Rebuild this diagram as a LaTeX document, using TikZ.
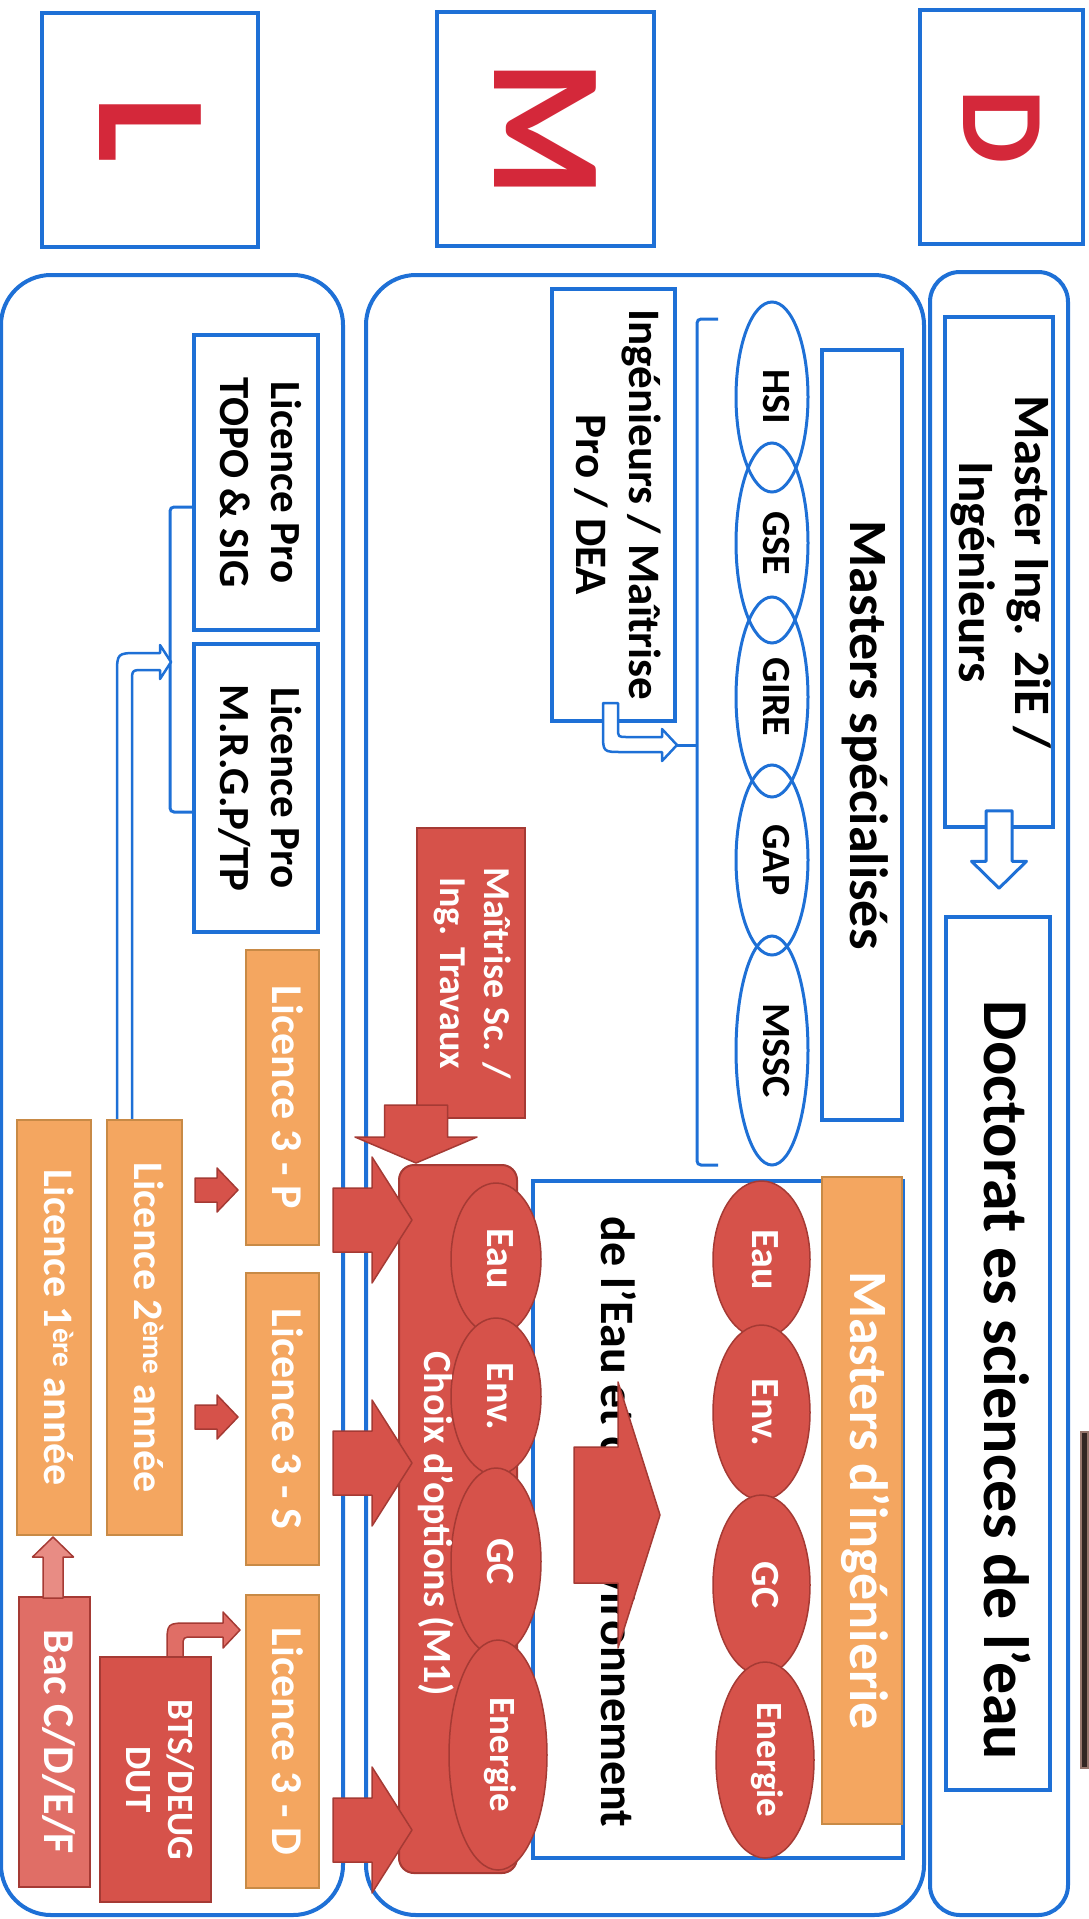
\documentclass[tikz,border=0pt]{standalone}
\usepackage{fontspec}
\setmainfont{Carlito}
\usepackage{graphicx}
\usetikzlibrary{shapes.geometric,calc}
\definecolor{bl}{RGB}{30,112,214}
\definecolor{letred}{RGB}{212,40,58}
\definecolor{orfill}{RGB}{244,166,96}
\definecolor{ordraw}{RGB}{200,138,70}
\definecolor{rdfill}{RGB}{214,82,74}
\definecolor{rddraw}{RGB}{165,58,52}
\definecolor{rdlight}{RGB}{224,110,102}
\definecolor{pinkarrow}{RGB}{232,140,132}
\definecolor{stripfill}{RGB}{50,38,34}
\definecolor{stripdraw}{RGB}{150,118,108}
\newsavebox\myrbox
\newcommand\Rbox[2][0pt]{\sbox\myrbox{\rotatebox{-90}{#2}}\smash{\makebox[0pt]{\raisebox{\dimexpr.5\dp\myrbox-#1\relax}{\usebox\myrbox}}}}
\newcommand\R[2][0pt]{\Rbox[#1]{\begin{tabular}{@{}c@{}}#2\end{tabular}}}
\newcommand\boxat[7]{\node[#2,minimum width={(#5)-(#3)},minimum height={(#6)-(#4)}] (#1) at ({((#3)+(#5))/2},{((#4)+(#6))/2}) {#7};}
\newcommand\barrow[6]{%
  \path let \p1=(#2), \p2=(#3) in \pgfextra{%
    \pgfmathsetmacro\baang{atan2(\y2-\y1,\x2-\x1)}%
    \pgfmathsetlengthmacro\balen{veclen(\x2-\x1,\y2-\y1)}%
    \xdef\baang{\baang}\xdef\balen{\balen}%
    \xdef\bax{\x1}\xdef\bay{\y1}};
  \begin{scope}[shift={(\bax,\bay)},rotate=\baang]
    \pgfmathsetlengthmacro\bab{\balen-#6pt}%
    \path[#1] (0pt,#4pt) -- (\bab,#4pt) -- (\bab,#5pt) -- (\balen,0pt) -- (\bab,-#5pt) -- (\bab,-#4pt) -- (0pt,-#4pt) -- cycle;
  \end{scope}}
\begin{document}
\begin{tikzpicture}[x=1pt,y=-1pt,
  region/.style={draw=bl,line width=4pt,rounded corners=50pt,inner sep=0},
  lettbox/.style={draw=bl,line width=4.5pt,fill=white,inner sep=0,text=letred},
  bbox/.style={draw=bl,line width=3.5pt,fill=white,inner sep=0},
  obox/.style={draw=ordraw,line width=2.5pt,fill=orfill,inner sep=0,text=white},
  rbox/.style={draw=rddraw,line width=2pt,fill=rdfill,inner sep=0,text=white},
  bell/.style={ellipse,draw=bl,line width=3pt,inner sep=0},
  rell/.style={ellipse,draw=rddraw,line width=1.5pt,fill=rdfill,inner sep=0,text=white},
  fs/.style 2 args={font=\fontsize{#1}{#2}\selectfont\bfseries},
  hol/.style={draw=bl,line width=2.5pt,fill=white,line join=round},
  brk/.style={draw=bl,line width=3pt,rounded corners=4pt},
  redarrow/.style={fill=rdfill,draw=rddraw,line width=1.5pt,line join=round},
]
\useasboundingbox (0,0) rectangle (1088,1919);
% letter boxes
\boxat{Lb}{lettbox,fs={157}{160}}{42}{13}{258}{247}{\Rbox{L}}
\boxat{Mb}{lettbox,fs={157}{160}}{437}{12}{654}{246}{\Rbox{M}}
\boxat{Db}{lettbox,fs={118}{120}}{920}{10}{1083}{244}{\Rbox{D}}
% regions
\boxat{lreg}{region}{1}{275}{343}{1915}{}
\boxat{mreg}{region}{366}{275}{924}{1915}{}
\boxat{dreg}{region,rounded corners=30pt}{930}{272}{1068}{1915}{}
% D region
\boxat{masteri}{bbox,fs={51}{56}}{945}{317}{1053}{827}{\R{Master Ing. 2iE /\\Ingénieurs}}
\boxat{doct}{bbox,fs={64}{70}}{946}{917}{1050}{1790}{\R[27pt]{Doctorat es sciences de l’eau}}
\coordinate (dA) at ($(masteri.south)+(0,-18)$);
\coordinate (dB) at ($(dA |- doct.north)+(0,-27)$);
\barrow{hol,line width=3pt}{dA}{dB}{13}{27.5}{27}
% M region: specialised masters
\boxat{ing}{bbox,fs={45}{53}}{552}{289}{675}{721}{\R{Ingénieurs / Maîtrise\\Pro / DEA}}
\coordinate (ingtip) at (677,745);
\coordinate (brT) at (697,319);
\coordinate (brB) at (697,1165);
\filldraw[hol] (603,703) -- (618,703) -- (618,728) .. controls (618,737) .. (627,737) -- (662,737) -- (662,729) -- (ingtip) -- (662,761) -- (662,752) -- (622,752) .. controls (603,752) .. (603,733) -- cycle;
\draw[brk] ($(brT)+(21,0)$) -- (brT) -- (brB) -- ($(brB)+(21,0)$);
\draw[brk] (ingtip) -- (ingtip -| brT);
\boxat{mspec}{bbox,fs={54}{58}}{822}{350}{902}{1120}{\R{Masters spécialisés}}
\boxat{hsi}{bell,fs={40}{44}}{736}{302}{808}{492}{\R{HSI}}
\boxat{gse}{bell,fs={40}{44}}{736}{443}{808}{643}{\R{GSE}}
\boxat{gire}{bell,fs={40}{44}}{736}{597}{808}{797}{\R{GIRE}}
\boxat{gap}{bell,fs={40}{44}}{736}{765}{808}{955}{\R{GAP}}
\boxat{mssc}{bell,fs={40}{44}}{736}{936}{808}{1165}{\R{MSSC}}
% engineering masters
\boxat{wbox}{bbox}{533}{1181}{903}{1858}{}
\node[fs={48}{52}] (engt) at (612,1522) {\R{de l’Eau et de l’Environnement}};
\coordinate (bgA) at (574,1515);
\coordinate (bgB) at (660,1515);
\barrow{redarrow}{bgA}{bgB}{68}{133}{42}
\boxat{ue1}{rell,fs={40}{44}}{713}{1181}{810}{1338}{\R{Eau}}
\boxat{ue2}{rell,fs={40}{44}}{713}{1325}{810}{1500}{\R{Env.}}
\boxat{ue3}{rell,fs={40}{44}}{713}{1495}{810}{1675}{\R{GC}}
\boxat{ue4}{rell,fs={37}{40}}{716}{1662}{814}{1858}{\R{Energie}}
\boxat{mding}{obox,fs={54}{58}}{822}{1177}{902}{1824}{\R{Masters d’ingénierie}}
% Maitrise and M1
\boxat{mait}{rbox,fs={38}{44}}{417}{828}{525}{1118}{\R{Maîtrise Sc. /\\Ing. Travaux}}
\coordinate (mtA) at (416,1105);
\coordinate (mtB) at (416,1163);
\barrow{redarrow}{mtA}{mtB}{31.5}{61}{26}
\boxat{m1}{rbox,rounded corners=15pt}{399}{1165}{517}{1873}{}
\boxat{le1}{rell,fs={40}{44}}{451}{1183}{541}{1335}{\R{Eau}}
\boxat{le2}{rell,fs={40}{44}}{451}{1318}{541}{1475}{\R{Env.}}
\boxat{le3}{rell,fs={40}{44}}{451}{1468}{541}{1655}{\R{GC}}
\boxat{le4}{rell,fs={37}{40}}{449}{1640}{547}{1870}{\R{Energie}}
\node[fs={40}{44},text=white] (m1t) at (433,1524) {\R{Choix d’options (M1)}};
% L region
\boxat{tpro}{bbox,fs={43}{51}}{194}{335}{318}{630}{\R{Licence Pro\\TOPO \& SIG}}
\boxat{mpro}{bbox,fs={43}{51}}{194}{644}{318}{932}{\R{Licence Pro\\M.R.G.P/TP}}
\coordinate (lbT) at (170,507);
\coordinate (lbB) at (170,812);
\draw[brk] ($(lbT)+(23,0)$) -- (lbT) -- (lbB) -- ($(lbB)+(23,0)$);
\coordinate (ltip) at (171,662);
\filldraw[hol] (117,1125) -- (117,675) .. controls (117,653) .. (139,653) -- (160,653) -- (160,645) -- (ltip) -- (160,679) -- (160,670) -- (144,670) .. controls (132,670) .. (132,682) -- (132,1125);
\boxat{l3p}{obox,fs={44}{50}}{246}{950}{319}{1245}{\R{Licence 3 - P}}
\boxat{l3s}{obox,fs={44}{50}}{246}{1273}{319}{1565}{\R{Licence 3 - S}}
\boxat{l3d}{obox,fs={44}{50}}{246}{1595}{319}{1888}{\R{Licence 3 - D}}
\boxat{l2}{obox,fs={42}{48}}{107}{1120}{182}{1535}{\R{Licence 2\textsuperscript{ème} année}}
\boxat{l1}{obox,fs={42}{48}}{17}{1120}{91}{1535}{\R{Licence 1\textsuperscript{ère} année}}
\coordinate (s1A) at (195,1190);
\coordinate (s1B) at (238,1190);
\coordinate (s2A) at (195,1417);
\coordinate (s2B) at (238,1417);
\barrow{redarrow}{s1A}{s1B}{12}{22}{21}
\barrow{redarrow}{s2A}{s2B}{12}{22}{21}
\boxat{bac}{rbox,fill=rdlight,fs={44}{48}}{19}{1597}{90}{1887}{\R{Bac C/D/E/F}}
\coordinate (bcA) at (53,1598);
\coordinate (bcB) at (53,1537);
\barrow{redarrow,fill=pinkarrow}{bcA}{bcB}{10}{20.5}{20}
\coordinate (btip) at (240,1630);
\filldraw[redarrow,fill=rdlight] (167,1662) -- (167,1645) .. controls (167,1623) .. (189,1623) -- (223,1623) -- (223,1612) -- (btip) -- (223,1648) -- (223,1637) -- (193,1637) .. controls (183,1637) .. (183,1647) -- (183,1662) -- cycle;
\boxat{bts}{rbox,fs={37}{42}}{100}{1657}{211}{1902}{\R{BTS/DEUG\\DUT}}
% arrows L3 -> M1
\coordinate (b1A) at (333,1220);
\coordinate (b1B) at (412,1220);
\coordinate (b2A) at (333,1463);
\coordinate (b2B) at (412,1463);
\coordinate (b3A) at (333,1830);
\coordinate (b3B) at (412,1830);
\barrow{redarrow}{b1A}{b1B}{32}{63}{40}
\barrow{redarrow}{b2A}{b2B}{32}{63}{40}
\barrow{redarrow}{b3A}{b3B}{32}{63}{40}
% strip at right edge
\filldraw[fill=stripfill,draw=stripdraw,line width=1.5pt] (1081,1432) rectangle (1088,1768);
\end{tikzpicture}
\end{document}
